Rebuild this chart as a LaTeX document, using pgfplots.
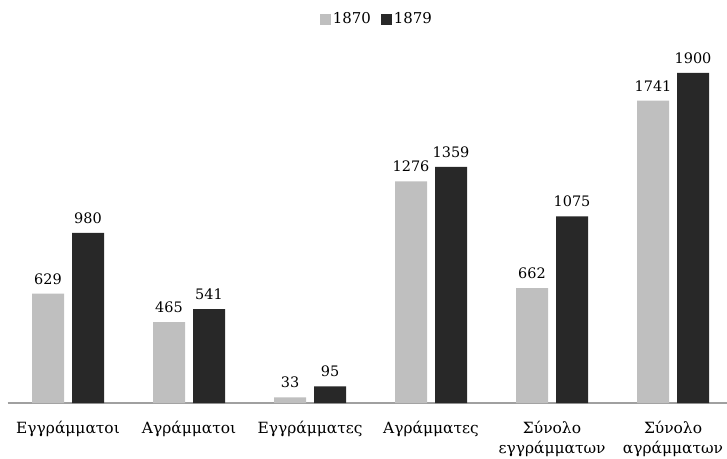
\documentclass[border=0pt]{standalone}
\usepackage{fontspec}
\setmainfont{DejaVu Serif}
\usepackage{pgfplots}
\pgfplotsset{compat=1.18}
\definecolor{lightbar}{HTML}{BFBFBF}
\definecolor{darkbar}{HTML}{282828}
\definecolor{axisgray}{HTML}{A0A0A0}
\begin{document}
\begin{tikzpicture}
\begin{axis}[
    at={(7.5bp,56bp)}, anchor=south west,
    scale only axis,
    width=719.5bp, height=347.4bp,
    xmin=-0.5, xmax=5.446,
    ymin=0, ymax=2000,
    ybar=8bp, bar width=32bp,
    axis x line*=bottom,
    axis y line=none,
    x axis line style={axisgray, line width=1.2bp, -},
    xtick=data,
    xticklabels={Εγγράμματοι, Αγράμματοι, Εγγράμματες, Αγράμματες, Σύνολο\\εγγράμματων, Σύνολο\\αγράμματων},
    xticklabel style={align=center, font=\fontsize{15.5}{20}\selectfont, yshift=-15bp},
    major tick length=0pt,
    /pgf/number format/assume math mode=true,
    /pgf/number format/1000 sep={},
    nodes near coords,
    every node near coord/.append style={font=\fontsize{14.5}{17}\selectfont, text=black, yshift=6bp},
    legend style={draw=none, at={(0.5135,1.105)}, anchor=center, legend columns=2,
        font=\fontsize{15}{17}\selectfont,
        /tikz/every even column/.append style={column sep=8bp}},
    legend image code/.code={\fill[#1] (0bp,-5.5bp) rectangle (11bp,5.5bp);},
    clip=false,
]
\addplot[fill=lightbar, draw=none] coordinates {(0,629) (1,465) (2,33) (3,1276) (4,662) (5,1741)};
\addplot[fill=darkbar, draw=none] coordinates {(0,980) (1,541) (2,95) (3,1359) (4,1075) (5,1900)};
\legend{1870, 1879}
\end{axis}
\pgfresetboundingbox
\path (0,0) rectangle (727bp,459bp);
\end{tikzpicture}
\end{document}
